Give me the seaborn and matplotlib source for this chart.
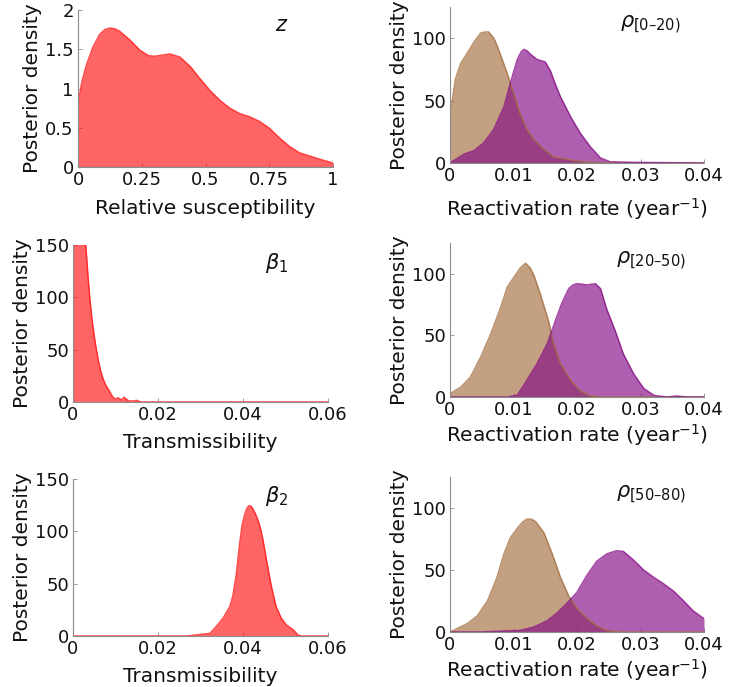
import numpy as np
import matplotlib
matplotlib.use("Agg")
import matplotlib.pyplot as plt
import seaborn as sns

# --- posterior density curves ---
z_x = [0, 0.015, 0.033, 0.059, 0.085, 0.105, 0.124, 0.145, 0.163, 0.203, 0.242, 0.275,
       0.30, 0.32, 0.36, 0.40, 0.44, 0.477, 0.516, 0.556, 0.595, 0.634, 0.673, 0.712,
       0.752, 0.79, 0.83, 0.869, 0.908, 0.948, 1.0]
z_y = [0.81, 1.08, 1.30, 1.53, 1.69, 1.75, 1.77, 1.76, 1.73, 1.62, 1.49, 1.42,
       1.41, 1.42, 1.44, 1.40, 1.28, 1.13, 0.98, 0.85, 0.75, 0.68, 0.64, 0.58,
       0.49, 0.37, 0.26, 0.18, 0.14, 0.10, 0.05]

b1_x = [0, 0.001, 0.002, 0.003, 0.0035, 0.004, 0.0045, 0.005, 0.0055, 0.006, 0.0065,
        0.007, 0.0075, 0.008, 0.0085, 0.009, 0.0095, 0.010, 0.0105, 0.011, 0.0115,
        0.012, 0.0125, 0.013, 0.014, 0.015, 0.016, 0.06]
b1_y = [190, 175, 162, 150, 122, 97, 78, 63, 50, 39, 30,
        23, 18, 14, 11, 7, 4, 3, 4, 3, 2,
        4.5, 3, 1, 1, 1.5, 0, 0]

b2_x = [0, 0.0267, 0.0322, 0.0337, 0.0353, 0.0369, 0.0376, 0.0384, 0.0392, 0.0398,
        0.0404, 0.0409, 0.0414, 0.0419, 0.0424, 0.0429, 0.0435, 0.0441, 0.0447, 0.0455,
        0.0467, 0.0478, 0.049, 0.0502, 0.0518, 0.0529, 0.0537, 0.06]
b2_y = [0, 0, 2.5, 9, 17, 28, 38, 58, 88, 106,
        116, 122, 124.5, 124, 121, 117, 111, 103, 92, 73,
        47, 28, 17, 10.5, 6, 1, 0, 0]

# rho [0-20)
r1_tan_x = [0, 0.0004, 0.0009, 0.0017, 0.0027, 0.0038, 0.0048, 0.0055, 0.0061, 0.0069,
            0.0075, 0.008, 0.009, 0.010, 0.011, 0.0121, 0.0132, 0.0148, 0.0163, 0.0184,
            0.021, 0.0237, 0.04]
r1_tan_y = [37, 52, 68, 80, 88, 97, 104, 105, 105, 100,
            93, 86, 72, 56, 40, 27, 19, 11, 5, 3,
            1, 0, 0]
r1_pur_x = [0, 0.0022, 0.0038, 0.0053, 0.0069, 0.0085, 0.0095, 0.0106, 0.0112, 0.0116,
            0.0121, 0.0127, 0.0137, 0.015, 0.0158, 0.0166, 0.0174, 0.019, 0.0205, 0.0221,
            0.0237, 0.0252, 0.029, 0.04]
r1_pur_y = [0, 7, 10, 16, 27, 45, 64, 83, 89, 91,
            90, 87, 83, 81, 74, 63, 53, 37, 24, 13,
            4, 1, 0.5, 0]

# rho [20-50)
r2_tan_x = [0, 0.0017, 0.0032, 0.0048, 0.0064, 0.008, 0.009, 0.0103, 0.0111, 0.0119,
            0.0126, 0.0132, 0.0142, 0.0155, 0.0163, 0.0174, 0.019, 0.0205, 0.0221,
            0.0237, 0.04]
r2_tan_y = [2.7, 8, 16, 32, 51, 73, 89, 99, 105, 108.6,
            105, 99, 84, 62, 44, 27, 13.5, 5, 1,
            0, 0]
r2_pur_x = [0, 0.009, 0.0106, 0.0121, 0.0137, 0.0153, 0.0166, 0.0176, 0.0187, 0.0194,
            0.02, 0.0216, 0.0229, 0.0237, 0.0247, 0.026, 0.0273, 0.0289, 0.0305, 0.0321,
            0.0341, 0.0357, 0.0373, 0.04]
r2_pur_y = [0, 0, 1.4, 13.5, 27, 43, 62, 76, 88, 91,
            92, 91, 92, 88, 71, 54, 35, 19, 7, 1.4,
            0, 0.8, 0, 0]

# rho [50-80)
r3_tan_x = [0, 0.0027, 0.0043, 0.0059, 0.0074, 0.0085, 0.0095, 0.0108, 0.0115, 0.0121,
            0.0128, 0.0135, 0.0148, 0.0161, 0.0174, 0.0187, 0.02, 0.0216, 0.0231,
            0.0247, 0.0268, 0.04]
r3_tan_y = [0, 6.7, 13, 25, 44, 63, 76, 85, 89, 91,
            91, 89, 80, 63, 44, 29, 19, 11, 5,
            1.3, 0, 0]
r3_pur_x = [0, 0.005, 0.0111, 0.0132, 0.0153, 0.0168, 0.0184, 0.02, 0.0216, 0.0231,
            0.0247, 0.0262, 0.0273, 0.0289, 0.0305, 0.0321, 0.0336, 0.0352, 0.0368,
            0.0383, 0.04]
r3_pur_y = [0, 0, 1.3, 4, 9, 15, 23, 32, 46, 57,
            63, 65.5, 65, 58, 50, 44, 39, 33, 25,
            17, 10.7]

RED = (1.0, 0.07, 0.07)
TAN = (0.64, 0.43, 0.24)
PUR = (0.52, 0.04, 0.52)
ALPHA = 0.65

sns.set_theme(style="ticks")
plt.rcParams['font.family'] = ['DejaVu Sans']
plt.rcParams['mathtext.fontset'] = 'dejavusans'

fig = plt.figure(figsize=(7.34, 6.87), dpi=100)

def px_axes(left, top, right, bottom):
    W, H = 734, 687
    return fig.add_axes([left / W, 1 - bottom / H, (right - left) / W, (bottom - top) / H])

def style(ax, xlim, ylim, xticks, yticks, xlabel, label, lx, ly, xpad):
    ax.set_xlim(*xlim)
    ax.set_ylim(*ylim)
    ax.set_xticks(xticks)
    ax.set_yticks(yticks)
    fmt = plt.FuncFormatter(lambda v, _: '{:g}'.format(round(v, 6)))
    ax.xaxis.set_major_formatter(fmt)
    ax.yaxis.set_major_formatter(fmt)
    for s in ['top', 'right']:
        ax.spines[s].set_visible(False)
    for s in ['left', 'bottom']:
        ax.spines[s].set_color('#8c8c8c')
        ax.spines[s].set_linewidth(0.8)
    ax.tick_params(direction='in', length=3, width=0.6, color='#8c8c8c',
                   labelsize=13, pad=3, labelcolor='#111111')
    ax.set_xlabel(xlabel, fontsize=14.5, labelpad=xpad, color='#111111')
    ax.set_ylabel('Posterior density', fontsize=14.5, labelpad=2, color='#111111')
    ax.text(lx, ly, label, transform=ax.transAxes, fontsize=15, ha='center', va='center',
            color='#111111')
    ax.set_facecolor('none')

def density(ax, x, y, color):
    ax.fill_between(x, 0, y, color=color, alpha=ALPHA, linewidth=0)
    sns.lineplot(x=x, y=y, ax=ax, color=color, alpha=0.75, linewidth=1.1)

# left column
ax = px_axes(78, 10, 333, 167)
density(ax, z_x, z_y, RED)
style(ax, (0, 1), (0, 2), [0, 0.25, 0.5, 0.75, 1], [0, 0.5, 1, 1.5, 2],
      'Relative susceptibility', '$z$', 0.80, 0.905, 7)

ax = px_axes(73, 245, 328, 402)
density(ax, b1_x, b1_y, RED)
style(ax, (0, 0.06), (0, 150), [0, 0.02, 0.04, 0.06], [0, 50, 100, 150],
      'Transmissibility', r'$\beta_1$', 0.80, 0.885, 6)

ax = px_axes(73, 479, 328, 636)
density(ax, b2_x, b2_y, RED)
style(ax, (0, 0.06), (0, 150), [0, 0.02, 0.04, 0.06], [0, 50, 100, 150],
      'Transmissibility', r'$\beta_2$', 0.80, 0.89, 6)

# right column
rate_label = 'Reactivation rate (year$^{-1}$)'
rho_panels = [
    ((450, 7, 704, 163), r1_tan_x, r1_tan_y, r1_pur_x, r1_pur_y, r'$\rho_{\mathrm{[0–20)}}$', 8),
    ((450, 243, 704, 397), r2_tan_x, r2_tan_y, r2_pur_x, r2_pur_y, r'$\rho_{\mathrm{[20–50)}}$', 2),
    ((450, 477, 704, 632), r3_tan_x, r3_tan_y, r3_pur_x, r3_pur_y, r'$\rho_{\mathrm{[50–80)}}$', 2),
]
for box, tx, ty, px, py, lab, pad in rho_panels:
    ax = px_axes(*box)
    density(ax, tx, ty, TAN)
    density(ax, px, py, PUR)
    style(ax, (0, 0.04), (0, 125), [0, 0.01, 0.02, 0.03, 0.04], [0, 50, 100],
          rate_label, lab, 0.79, 0.885, pad)

fig.savefig('out.png', dpi=100, facecolor='white')
